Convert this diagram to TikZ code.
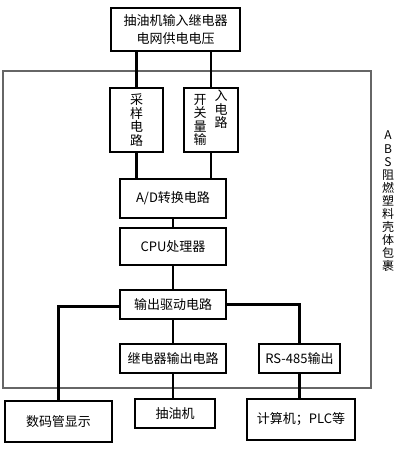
\documentclass[tikz,border=0pt]{standalone}
\usepackage{fontspec}
\newfontfamily\cjk{Noto Sans CJK SC}
\begin{document}
\begin{tikzpicture}[x=1pt,y=-1pt,
  box/.style={draw=black, line width=2.6pt, inner sep=0pt, align=center,
    font=\cjk\fontsize{13}{13.5}\selectfont},
  vtext/.style={inner sep=0pt, align=center, font=\cjk\fontsize{13}{13.5}\selectfont},
  wire/.style={line width=2.3pt},
  shellbox/.style={draw=black!60, line width=1.1pt, inner sep=0pt}]
\useasboundingbox (0,0) rectangle (401,450);
\fill[white] (0,0) rectangle (401,450);
% enclosure
\node[shellbox, minimum width=368pt, minimum height=317pt] (shell) at (187,229.5) {};
\node[vtext, font=\cjk\fontsize{12}{13.1}\selectfont, anchor=north] (side) at (388,131)
  {A\\B\\S\\阻\\燃\\塑\\料\\壳\\体\\包\\裹};
% boxes
\node[box, minimum width=129pt, minimum height=43pt] (top) at (175.5,29.5)
  {抽油机输入继电器\\[4pt]电网供电电压};
\node[box, minimum width=53pt, minimum height=64pt] (samp) at (136.5,120)
  {采\\样\\电\\路};
\node[box, minimum width=54pt, minimum height=64pt] (kairu) at (211,120) {};
\node[vtext, anchor=north] (kL) at (200,94) {开\\关\\量\\输};
\node[vtext, anchor=north] (kR) at (221,90) {入\\电\\路};
\node[box, minimum width=106pt, minimum height=39pt] (ad) at (173,198.5) {A/D转换电路};
\node[box, minimum width=106pt, minimum height=37pt] (cpu) at (173,246.5) {CPU处理器};
\node[box, minimum width=106pt, minimum height=29pt] (out) at (173,304.5) {输出驱动电路};
\node[box, minimum width=106pt, minimum height=29pt] (relay) at (173,358.5) {继电器输出电路};
\node[box, minimum width=81pt, minimum height=29pt] (rs) at (299.5,358.5) {RS-485输出};
\node[box, minimum width=107pt, minimum height=41pt] (disp) at (58.5,421.5) {数码管显示};
\node[box, minimum width=80pt, minimum height=29pt] (pump) at (175,413.5) {抽油机};
\node[box, minimum width=108pt, minimum height=41pt] (pc) at (301,419.5) {计算机；PLC等};
% connectors
\draw[wire] (samp.north) -- (samp.north |- top.south);
\draw[wire] (kairu.north) -- (kairu.north |- top.south);
\draw[wire] (samp.south) -- (samp.south |- ad.north);
\draw[wire] (kairu.south) -- (kairu.south |- ad.north);
\draw[wire] (ad.south) -- (cpu.north);
\draw[wire] (cpu.south) -- (out.north);
\draw[wire] (out.south) -- (relay.north);
\draw[wire] ([yshift=-2pt]out.west) -| (disp.north);
\draw[wire] (out.east) -| (rs.north);
\draw[wire] (relay.south) -- (relay.south |- pump.north);
\draw[wire] (rs.south) -- (rs.south |- pc.north);
\end{tikzpicture}
\end{document}
